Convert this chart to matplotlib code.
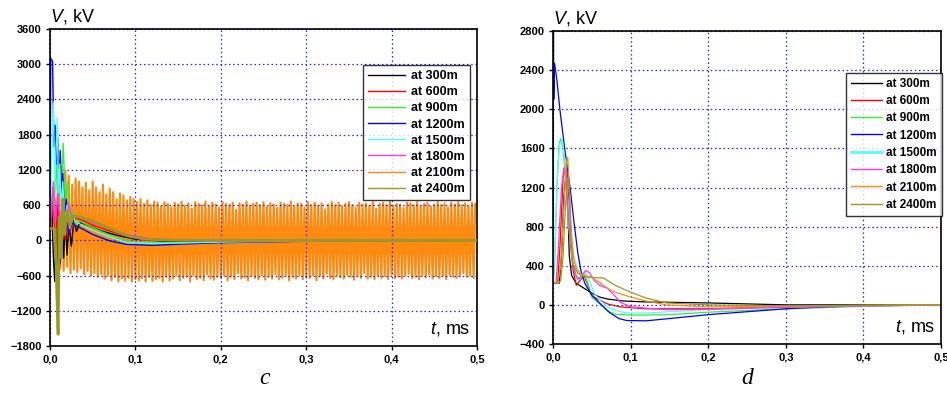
import numpy as np
import matplotlib
matplotlib.use("Agg")
import matplotlib.pyplot as plt
from matplotlib.ticker import FuncFormatter

plt.rcParams['font.family'] = ['Liberation Sans', 'DejaVu Sans']
plt.rcParams['mathtext.fontset'] = 'custom'
plt.rcParams['mathtext.it'] = 'Liberation Sans:italic'
plt.rcParams['mathtext.rm'] = 'Liberation Sans'

labels = ["at 300m", "at 600m", "at 900m", "at 1200m",
          "at 1500m", "at 1800m", "at 2100m", "at 2400m"]
colors = ["#000000", "#ff0000", "#33ee33", "#0000ff",
          "#55ffff", "#ff33ff", "#ff8a10", "#999926"]

# ---- panel c (time in ms, voltage in kV) ----
c_t300 = [0, 0.002, 0.004, 0.0055, 0.007, 0.0085, 0.01, 0.012, 0.014, 0.016, 0.018, 0.02, 0.022,
          0.025, 0.028, 0.031, 0.035, 0.04, 0.05, 0.06, 0.08, 0.1, 0.13, 0.2, 0.3, 0.5]
c_v300 = [200, 600, -300, -700, 200, -1150, 500, -400, 300, -300, 400, -250, 300,
          -100, 350, 150, 300, 280, 220, 160, 80, 20, -10, -20, 0, 0]
c_t600 = [0, 0.004, 0.006, 0.009, 0.012, 0.015, 0.018, 0.022, 0.026, 0.03, 0.04, 0.05, 0.07,
          0.09, 0.12, 0.2, 0.5]
c_v600 = [200, 800, -200, 600, 100, 500, 0, 400, 200, 380, 330, 260, 160, 70, 10, 0, 0]
c_t900 = [0, 0.003, 0.005, 0.007, 0.009, 0.011, 0.013, 0.0155, 0.018, 0.021, 0.024, 0.027, 0.03,
          0.035, 0.045, 0.06, 0.08, 0.1, 0.15, 0.25, 0.5]
c_v900 = [200, 900, 500, 1400, 700, 1200, 800, 1650, 600, 1000, 300, 500, 250,
          330, 250, 150, 30, -40, -40, -15, 0]
c_t1200 = [0, 0.0008, 0.003, 0.0045, 0.006, 0.0075, 0.009, 0.0105, 0.012, 0.0135, 0.015, 0.017,
           0.019, 0.022, 0.025, 0.03, 0.04, 0.05, 0.07, 0.09, 0.12, 0.16, 0.2, 0.3, 0.5]
c_v1200 = [200, 3100, 3050, 1600, 1960, 1300, 1750, 900, 1530, 700, 1140, 300,
           700, 100, 300, 250, 180, 100, -10, -70, -85, -60, -40, -15, 0]
c_t1500 = [0, 0.002, 0.004, 0.0055, 0.007, 0.0085, 0.01, 0.0115, 0.013, 0.015, 0.017, 0.02,
           0.023, 0.027, 0.03, 0.04, 0.05, 0.07, 0.09, 0.12, 0.2, 0.3, 0.5]
c_v1500 = [200, 1500, 2350, 900, 1500, 2080, 800, 1300, 500, 1000, 300, 600,
           200, 400, 320, 240, 170, 60, -40, -55, -30, -10, 0]
c_t1800 = [0, 0.004, 0.006, 0.009, 0.012, 0.015, 0.018, 0.022, 0.026, 0.03, 0.04, 0.05, 0.07,
           0.09, 0.12, 0.2, 0.5]
c_v1800 = [200, 1000, 300, 800, 200, 700, 300, 600, 350, 420, 380, 300, 200, 100, 20, -10, 0]
c_t2400 = [0, 0.006, 0.008, 0.0095, 0.011, 0.013, 0.015, 0.017, 0.02, 0.023, 0.027, 0.03, 0.035,
           0.05, 0.07, 0.09, 0.11, 0.15, 0.5]
c_v2400 = [200, 200, -900, -1600, 400, -300, 700, 100, 500, 250, 420, 400, 400,
           330, 200, 80, 20, 0, 0]

# 2100m keeps ringing: successive upper and lower peaks, 0.002 ms apart, from 0.006 ms
c_start2100 = [200, 300]
c_upper2100 = [700, 1300, 1250, 1180, 1100, 950, 1050, 1000, 900, 980, 850, 1000,
               900, 820, 950, 780, 880, 820, 700, 800, 760, 680, 740, 700,
               650, 700, 620, 680, 600, 660, 640, 580, 650, 620, 560, 640,
               610, 660, 590, 630, 540, 650, 620, 600, 660, 580, 640, 610,
               560, 650, 620, 600, 640, 520, 630, 610, 660, 590, 620, 640,
               600, 650, 570, 630, 610, 550, 640, 620, 600, 660, 580, 630,
               620, 560, 650, 600, 640, 590, 630, 520, 610, 650, 600, 640,
               580, 620, 650, 600, 560, 640, 610, 630, 590, 650, 540, 620,
               640, 600, 660, 580, 620, 610, 550, 640, 630, 600, 650, 590,
               620, 640, 570, 610, 650, 600, 630, 560, 640, 610, 650, 600,
               630, 580, 640, 620]
c_lower2100 = [-400, -480, -520, -450, -560, -500, -540, -480, -580, -520, -600, -560,
               -620, -580, -650, -600, -680, -620, -700, -650, -680, -640, -700, -660,
               -680, -640, -700, -620, -690, -660, -640, -700, -620, -680, -650, -600,
               -680, -640, -620, -700, -600, -660, -640, -680, -580, -650, -670, -620,
               -640, -600, -680, -620, -660, -560, -650, -630, -680, -600, -640, -660,
               -600, -670, -620, -650, -580, -660, -640, -600, -680, -620, -650, -590,
               -660, -620, -640, -600, -680, -610, -650, -570, -640, -660, -600, -630,
               -650, -590, -620, -670, -600, -640, -560, -650, -620, -660, -600, -640,
               -610, -660, -580, -640, -620, -650, -600, -570, -640, -620, -660, -600,
               -630, -580, -650, -610, -640, -600, -660, -590, -620, -640, -600, -560,
               -620, -600, -640]

# ---- panel d ----
d_t300 = [0, 0.008, 0.011, 0.014, 0.017, 0.019, 0.021, 0.024, 0.03, 0.04, 0.05, 0.06, 0.07,
          0.09, 0.12, 0.2, 0.25, 0.3, 0.5]
d_v300 = [220, 220, 500, 1100, 1360, 1000, 500, 300, 220, 170, 120, 80, 60, 40, 30, 20, 10, 0, 0]
d_t600 = [0, 0.006, 0.009, 0.013, 0.016, 0.019, 0.022, 0.026, 0.03, 0.035, 0.04, 0.045, 0.05,
          0.06, 0.07, 0.086, 0.12, 0.2, 0.3, 0.4, 0.5]
d_v600 = [220, 220, 600, 1300, 1420, 1300, 700, 350, 200, 250, 300, 200, 90,
          50, 10, -20, -40, -40, -20, -5, 0]
d_t900 = [0, 0.002, 0.005, 0.008, 0.01, 0.013, 0.016, 0.02, 0.025, 0.03, 0.035, 0.04, 0.045,
          0.05, 0.06, 0.07, 0.08, 0.1, 0.15, 0.2, 0.3, 0.4, 0.5]
d_v900 = [220, 400, 1200, 1650, 1700, 1600, 1300, 800, 450, 300, 260, 320, 220,
          80, 10, -60, -95, -105, -100, -75, -40, -15, 0]
d_t1200 = [0, 0.0006, 0.001, 0.002, 0.005, 0.009, 0.015, 0.022, 0.027, 0.032, 0.036, 0.041,
           0.05, 0.06, 0.073, 0.085, 0.095, 0.12, 0.15, 0.2, 0.25, 0.3, 0.35, 0.4, 0.5]
d_v1200 = [220, 2800, 2100, 2470, 2300, 1990, 1600, 1200, 850, 530, 350, 220,
           100, 20, -80, -140, -160, -163, -140, -100, -70, -40, -20, -10, 0]
d_t1500 = [0, 0.003, 0.006, 0.009, 0.012, 0.015, 0.018, 0.022, 0.027, 0.032, 0.037, 0.042,
           0.047, 0.053, 0.06, 0.07, 0.086, 0.1, 0.124, 0.19, 0.25, 0.35, 0.5]
d_v1500 = [220, 700, 1400, 1650, 1680, 1500, 1200, 800, 500, 350, 300, 330,
           250, 120, 50, -20, -70, -85, -82, -51, -35, -15, 0]
d_t1800 = [0, 0.004, 0.007, 0.011, 0.014, 0.017, 0.02, 0.024, 0.028, 0.032, 0.037, 0.042,
           0.047, 0.053, 0.06, 0.07, 0.08, 0.086, 0.1, 0.146, 0.2, 0.3, 0.4, 0.5]
d_v1800 = [220, 220, 600, 1200, 1400, 1300, 900, 500, 320, 260, 300, 350,
           330, 250, 200, 170, 90, 30, -20, -50, -45, -25, -10, 0]
d_t2100 = [0, 0.006, 0.01, 0.014, 0.017, 0.019, 0.021, 0.024, 0.027, 0.03, 0.035, 0.04, 0.05,
           0.06, 0.07, 0.08, 0.1, 0.12, 0.146, 0.2, 0.3, 0.4, 0.5]
d_v2100 = [220, 220, 400, 1000, 1450, 1510, 1200, 700, 450, 380, 320, 300, 280,
           230, 170, 130, 80, 40, 0, -20, -15, -5, 0]
d_t2400 = [0, 0.007, 0.01, 0.013, 0.016, 0.019, 0.021, 0.023, 0.025, 0.028, 0.032, 0.04, 0.05,
           0.065, 0.08, 0.1, 0.12, 0.146, 0.2, 0.3, 0.5]
d_v2400 = [220, 220, 250, 500, 1000, 1300, 1200, 700, 430, 380, 320, 290, 280,
           275, 200, 130, 70, 20, 0, -10, 0]

# ring-down series of 2100m built from its peak lists
c_v2100 = list(c_start2100)
for k in range(len(c_upper2100)):
    c_v2100.append(c_upper2100[k])
    if k < len(c_lower2100):
        c_v2100.append(c_lower2100[k])
c_t2100 = [0.0, 0.004] + list(np.round(0.006 + 0.002 * np.arange(len(c_v2100) - 2), 4))

c_series = [(c_t300, c_v300), (c_t600, c_v600), (c_t900, c_v900), (c_t1200, c_v1200),
            (c_t1500, c_v1500), (c_t1800, c_v1800), (c_t2100, c_v2100), (c_t2400, c_v2400)]
d_series = [(d_t300, d_v300), (d_t600, d_v600), (d_t900, d_v900), (d_t1200, d_v1200),
            (d_t1500, d_v1500), (d_t1800, d_v1800), (d_t2100, d_v2100), (d_t2400, d_v2400)]

fig = plt.figure(figsize=(9.47, 3.94), dpi=100)
ax1 = fig.add_axes([50 / 947, 48 / 394, 427 / 947, 317 / 394])
ax2 = fig.add_axes([553 / 947, 50 / 394, 388 / 947, 313 / 394])

comma = FuncFormatter(lambda x, p: ("%.1f" % x).replace(".", ","))


def style(ax, yticks, ylim):
    ax.set_xlim(0, 0.5)
    ax.set_ylim(*ylim)
    ax.set_xticks([0, 0.1, 0.2, 0.3, 0.4, 0.5])
    ax.set_yticks(yticks)
    ax.xaxis.set_major_formatter(comma)
    ax.tick_params(direction="out", length=3, width=1, labelsize=8, pad=3)
    for lab in ax.get_xticklabels() + ax.get_yticklabels():
        lab.set_fontweight("bold")
    ax.grid(True, color="#2020ff", linestyle=(0, (1.2, 2.2)), linewidth=0.9)
    for sp in ax.spines.values():
        sp.set_linewidth(1.2)
    ax.text(0.0, 1.01, "$V$, kV", transform=ax.transAxes, fontsize=13, va="bottom", ha="left")
    ax.text(0.985, 0.025, "$t$, ms", transform=ax.transAxes, fontsize=13, va="bottom", ha="right")


# panel c: orange ringing underneath, olive thick on top
for i, (t, v) in enumerate(c_series):
    z, lw = 2, 1.0
    if i == 6:
        z, lw = 1, 1.6
    if i == 7:
        z, lw = 3, 2.0
    ax1.plot(t, v, color=colors[i], lw=lw, zorder=z, label=labels[i])
style(ax1, list(range(-1800, 3601, 600)), (-1800, 3600))
leg1 = ax1.legend(loc="upper right", bbox_to_anchor=(0.984, 0.886), borderaxespad=0,
                  prop={"weight": "bold", "size": 9}, frameon=True, fancybox=False,
                  edgecolor="black", handlelength=3.0, labelspacing=0.33,
                  borderpad=0.4, handletextpad=0.5)
leg1.get_frame().set_linewidth(1.0)
for h in leg1.get_lines():
    h.set_linewidth(1.0)

for i, (t, v) in enumerate(d_series):
    ax2.plot(t, v, color=colors[i], lw=0.9, label=labels[i])
style(ax2, list(range(-400, 2801, 400)), (-400, 2800))
leg2 = ax2.legend(loc="upper right", bbox_to_anchor=(1.002, 0.866), borderaxespad=0,
                  prop={"weight": "bold", "size": 8.5}, frameon=True, fancybox=False,
                  edgecolor="black", handlelength=2.6, labelspacing=0.45,
                  borderpad=0.4, handletextpad=0.4)
leg2.get_frame().set_linewidth(1.0)
for h in leg2.get_lines():
    h.set_linewidth(1.0)
leg2.get_lines()[4].set_linewidth(2.0)

fig.text(265 / 947, 1 - 378 / 394, "c", fontsize=17, style="italic",
         family="Liberation Serif", ha="center", va="center")
fig.text(747 / 947, 1 - 378 / 394, "d", fontsize=17, style="italic",
         family="Liberation Serif", ha="center", va="center")

fig.savefig("out.png", dpi=100)
